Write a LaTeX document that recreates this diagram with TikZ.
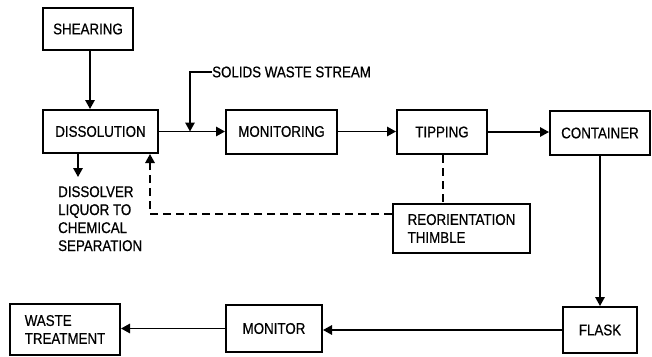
\documentclass[tikz,border=0pt]{standalone}
\usepackage{fontspec}
\setmainfont[FakeStretch=0.86,FakeBold=0.6]{Liberation Sans}
\usetikzlibrary{arrows.meta,calc}
\begin{document}
\begin{tikzpicture}[x=1pt,y=-1pt,
  txt/.style={font=\fontsize{15.5}{18}\selectfont},
  box/.style={draw,line width=2pt,minimum width=#1,inner sep=0pt,txt},
  flow/.style={line width=1.5pt,-{Triangle[length=9pt,width=9.5pt]}},
  dashln/.style={line width=1.4pt,dash pattern=on 8pt off 5pt},
  lbl/.style={txt,inner sep=0pt}]
\useasboundingbox (0,0) rectangle (652,356);
\node[box=90pt,minimum height=42pt] (shear) at (88,29) {SHEARING};
\node[box=115pt,minimum height=43pt] (diss) at (100.5,131.5) {DISSOLUTION};
\node[box=111pt,minimum height=44pt] (mon) at (281.5,131.5) {MONITORING};
\node[box=90pt,minimum height=44pt] (tip) at (442,132) {TIPPING};
\node[box=100pt,minimum height=44pt] (cont) at (600,133) {CONTAINER};
\node[box=137pt,minimum height=49pt,align=left] (thim) at (461.5,228.5) {REORIENTATION\\THIMBLE};
\node[box=74pt,minimum height=46pt] (flask) at (600,330) {FLASK};
\node[box=96pt,minimum height=47pt] (monitor) at (274,328.5) {MONITOR};
\node[box=110pt,minimum height=51pt,align=left] (waste) at (65,329.5) {WASTE\\TREATMENT};
\node[lbl,anchor=west] (sws) at (212,72) {SOLIDS WASTE STREAM};
\node[lbl,anchor=north west,align=left] (liq) at (58,186) {DISSOLVER\\LIQUOR TO\\CHEMICAL\\SEPARATION};
\coordinate (swc) at (190,72);
\coordinate (lq) at (78,153);
\coordinate (fb) at (150,214);
\coordinate (fbt) at (150,168);
\draw[flow] ([xshift=2pt]shear.south) -- ([xshift=2pt]shear.south |- diss.north);
\draw[flow] (diss.east) -- (mon.west);
\draw[flow] (sws.west) -- (swc) -- (swc |- diss.east);
\draw[flow] (mon.east) -- (mon.east -| tip.west);
\draw[flow] (tip.east) -- (tip.east -| cont.west);
\draw[flow] (cont.south) -- (flask.north);
\draw[flow] (flask.west) -- (flask.west -| monitor.east);
\draw[flow] (monitor.west) -- (monitor.west -| waste.east);
\draw[flow] (lq) -- ++(0,24);
\draw[dashln] ([xshift=1pt]tip.south) -- ([xshift=1pt]tip.south |- thim.north);
\draw[dashln] (fb -| thim.west) -- (fb) -- (fbt);
\draw[line width=1.4pt,-{Triangle[length=9pt,width=9.5pt]}] (fbt) -- (fb |- diss.south);
\end{tikzpicture}
\end{document}
